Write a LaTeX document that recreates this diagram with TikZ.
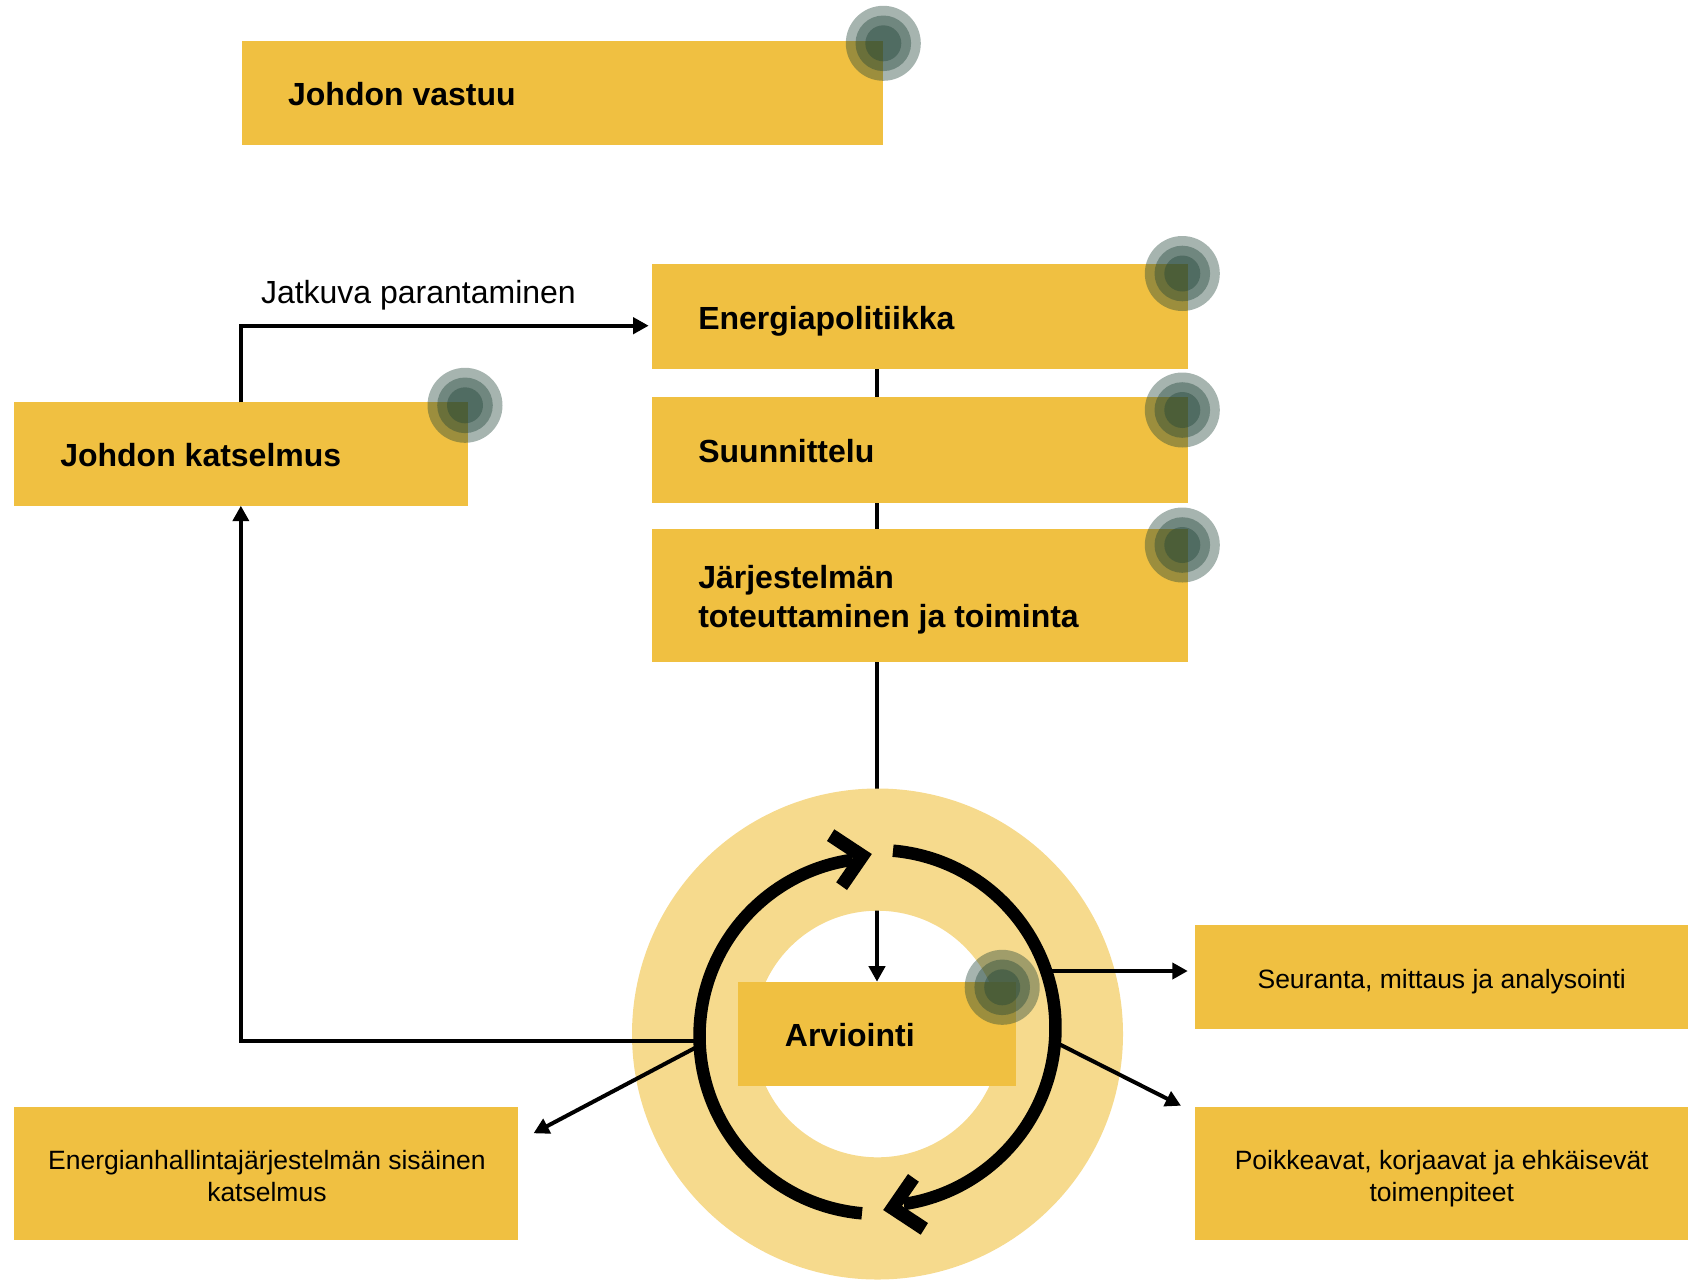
\documentclass[tikz,border=0pt]{standalone}
\usepackage{fontspec}
\setmainfont{Liberation Sans}
\usetikzlibrary{arrows.meta,calc}
\definecolor{boxc}{RGB}{240,192,65}
\definecolor{ringc}{RGB}{246,218,141}
\definecolor{dotc}{RGB}{32,67,55}
\pgfdeclarelayer{conn}
\pgfsetlayers{conn,main}
\tikzset{
  x=1pt,y=-1pt,
  bx/.style={fill=boxc,draw=none,anchor=north west,inner sep=0pt,outer sep=0pt},
  title/.style={inner sep=0pt,outer sep=0pt,anchor=base west,font=\fontsize{32}{39}\selectfont\bfseries},
  small/.style={inner sep=0pt,outer sep=0pt,anchor=base,font=\fontsize{26.5}{31.5}\selectfont},
  label/.style={inner sep=0pt,outer sep=0pt,anchor=base west,font=\fontsize{32}{38.4}\selectfont},
  conn/.style={line width=4pt,-{Triangle[length=15.5pt,width=16pt]}},
  plainconn/.style={line width=4pt},
  bigarc/.style={line width=12.5pt,black}
}
\newcommand{\targetdot}[2]{%
  \fill[dotc,fill opacity=.4] (#1,#2) circle (37.5);
  \fill[dotc,fill opacity=.4] (#1,#2) circle (27.8);
  \fill[dotc,fill opacity=.4] (#1,#2) circle (18);
}
\newcommand{\tbox}[7]{% name x y w h baseline-offset text
  \node[bx,minimum width=#4pt,minimum height=#5pt] (#1) at (#2,#3) {};
  \node[title] (#1t) at ($(#1.west)+(46.5,#6)$) {#7};
}
\newcommand{\smallbox}[7]{% name x y w h baseline-position text
  \node[bx,minimum width=#4pt,minimum height=#5pt] (#1) at (#2,#3) {};
  \coordinate (#1b) at (0,#6);
  \node[small] (#1t) at (#1.center |- #1b) {#7};
}
\begin{document}
\begin{tikzpicture}
\useasboundingbox (0,0) rectangle (1688,1280);
% boxes
\tbox{vastuu}{241.6}{41}{641.6}{104}{12.7}{Johdon vastuu}
\tbox{energia}{651.8}{264}{535.9}{105.4}{12.6}{Energiapolitiikka}
\tbox{suun}{651.8}{396.7}{535.9}{106}{12.7}{Suunnittelu}
\tbox{jarj}{651.8}{529}{535.9}{133}{-6.7}{\begin{tabular}[t]{@{}l@{}}Järjestelmän\\toteuttaminen ja toiminta\end{tabular}}
\tbox{katsel}{13.8}{402.3}{454.1}{103.4}{12.7}{Johdon katselmus}
\node[label] (jatkuva) at (261,303.5) {Jatkuva parantaminen};
\coordinate (ringc) at (877.5,1034);
\coordinate (enin) at (648.7,325.7);
\coordinate (rl) at (699,1041);
\coordinate (rl2) at (699,1045.8);
\coordinate (rr1) at (1046,971);
\coordinate (rr2) at (1055,1042);
\coordinate (t1) at (1187.8,971);
\coordinate (t2) at (1181,1105.7);
\coordinate (t3) at (533.5,1133.3);
% ring
\fill[ringc,even odd rule] (ringc) circle (245.5) (ringc) circle (123.3);
\tbox{arvio}{738.4}{981.7}{277.2}{104}{13}{Arviointi}
\smallbox{seur}{1195.4}{925}{492.6}{103.7}{988.3}{Seuranta, mittaus ja analysointi}
\smallbox{poik}{1195.4}{1106.7}{492.6}{133.3}{1169.5}{\begin{tabular}[t]{@{}c@{}}Poikkeavat, korjaavat ja ehkäisevät\\toimenpiteet\end{tabular}}
\smallbox{sisa}{13.8}{1106.7}{504.2}{133.3}{1169.5}{\hspace*{2pt}\begin{tabular}[t]{@{}c@{}}Energianhallintajärjestelmän sisäinen\\katselmus\end{tabular}}
% connectors under the ring
\begin{pgfonlayer}{conn}
\draw[conn] (arvio.north |- jarj.south) -- (arvio.north);
\draw[plainconn] (arvio.north |- energia.south) -- (arvio.north |- suun.north);
\draw[plainconn] (arvio.north |- suun.south) -- (arvio.north |- jarj.north);
\end{pgfonlayer}
\draw[conn] (katsel.north) |- (enin);
\draw[conn] (rl) -| (katsel.south);
\draw[conn] (rl2) -- (t3);
\draw[conn] (rr1) -- (t1);
\draw[conn] (rr2) -- (t2);
% target dots
\targetdot{883.3}{43.3}
\targetdot{1182.3}{273.5}
\targetdot{1182.3}{410}
\targetdot{1182.3}{545}
\targetdot{465}{405.3}
\targetdot{1002.2}{987.3}
% cycle arcs
\draw[bigarc] (862,1213.3) arc[start angle=95,end angle=262,radius=178];
\draw[bigarc] (893,850.7) arc[start angle=-85,end angle=81.5,radius=178];
\fill (871.8,854) -- (834.3,829.3) -- (827,841) -- (852.9,858.1) -- (836.2,882.3) -- (847,890) -- cycle;
\fill (883.2,1210) -- (908,1174) -- (918.8,1181.7) -- (902.1,1205.9) -- (928,1223) -- (920.7,1234.7) -- cycle;
\end{tikzpicture}
\end{document}
